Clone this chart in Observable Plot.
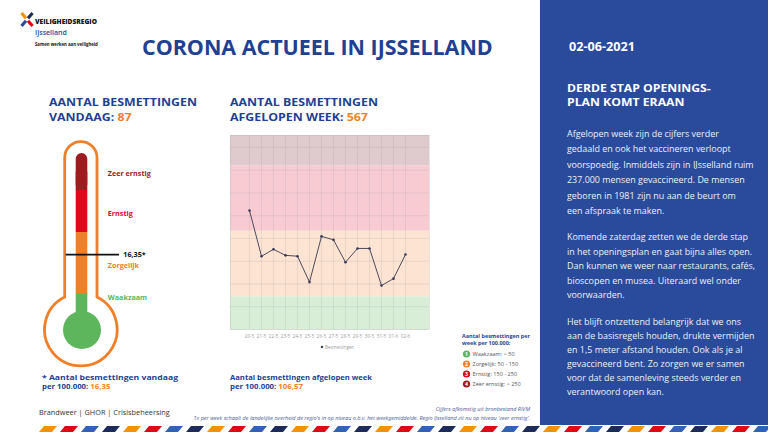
<!DOCTYPE html>
<html><head><meta charset="utf-8">
<script src="https://cdn.jsdelivr.net/npm/d3@7"></script>
<script src="https://cdn.jsdelivr.net/npm/@observablehq/plot@0.6"></script>
<style>
html,body{margin:0;padding:0;background:#fff;}
#root{position:relative;width:768px;height:432px;overflow:hidden;font-family:"Open Sans",sans-serif;background:#fff;}
#deco{position:absolute;left:0;top:0;}
#thermo{position:absolute;left:0;top:0;width:200px;height:400px;}
#chart{position:absolute;left:200px;top:125px;width:240px;height:230px;}
</style></head><body>
<div id="root">
<svg id="deco" width="768" height="432"></svg>
<div id="thermo"></div>
<div id="chart"></div>
</div>
<script>
// ---------- data ----------
const dates = ["20-5","21-5","22-5","23-5","24-5","25-5","26-5","27-5","28-5","29-5","30-5","31-5","01-6","02-6"];
const infections = [138,85,93,86,85,55,108,104,78,94,94,51,59,87];
const levelNames = ["Waakzaam","Zorgelijk","Ernstig","Zeer ernstig"];
const levelColors = ["#5db65c","#f07f29","#e2071b","#9e1b20"];
const chartBandColors = ["#d8eed7","#fde3d1","#f8cbd3","#dfcacd"];
const weeklyThresholds = [0, 50, 150, 250, 350];          // per 100.000 per week
const dailyRegionThresholds = [0, 38, 114, 190, 225];      // daily infections IJsselland
const gridValues = [0, 26.4, 52.8, 79.2, 105.6, 132, 158.4, 184.8, 211.2];
const legendRanges = ["< 50", "50 - 150", "150 - 250", "> 250"];
const todayCount = 87;
const weekCount = 567;
const todayPer100k = 16.35;
const weekPer100k = 106.57;
const dateLabel = "02-06-2021";
const para1 = ["Afgelopen week zijn de cijfers verder","gedaald en ook het vaccineren verloopt","voorspoedig. Inmiddels zijn in IJsselland ruim","237.000 mensen gevaccineerd. De mensen","geboren in 1981 zijn nu aan de beurt om","een afspraak te maken."];
const para2 = ["Komende zaterdag zetten we de derde stap","in het openingsplan en gaat bijna alles open.","Dan kunnen we weer naar restaurants, cafés,","bioscopen en musea. Uiteraard wel onder","voorwaarden."];
const para3 = ["Het blijft ontzettend belangrijk dat we ons","aan de basisregels houden, drukte vermijden","en 1,5 meter afstand houden. Ook als je al","gevaccineerd bent. Zo zorgen we er samen","voor dat de samenleving steeds verder en","verantwoord open kan."];

const nl = v => String(v).replace(".", ",");
const BLUE = "#213f93";
const ORANGE = "#f07f29";

// ---------- decoration / text ----------
const svg = d3.select("#deco");
function txt(x, y, s, o = {}) {
  const t = svg.append("text").attr("x", x).attr("y", y)
    .attr("font-family", o.family || "Open Sans")
    .attr("font-size", o.size || 9)
    .attr("font-weight", o.weight || 400)
    .attr("fill", o.fill || "#333");
  if (o.italic) t.attr("font-style", "italic");
  if (o.anchor) t.attr("text-anchor", o.anchor);
  if (o.len) t.attr("textLength", o.len).attr("lengthAdjust", "spacingAndGlyphs");
  if (Array.isArray(s)) s.forEach(([str, col]) => t.append("tspan").attr("fill", col).text(str));
  else t.text(s);
  return t;
}
function fit(t, target) {
  const w = t.node().getComputedTextLength();
  const f = +t.attr("font-size") * target / w;
  t.attr("font-size", f);
  return f;
}
// keep width, shrink line box a little (tightly stacked heading lines)
function squeeze(t, k) {
  const w = t.node().getComputedTextLength();
  t.attr("font-size", +t.attr("font-size") * k).attr("textLength", w).attr("lengthAdjust", "spacingAndGlyphs");
  return t;
}

// blue panel
svg.append("rect").attr("x", 540).attr("y", 0).attr("width", 228).attr("height", 425).attr("fill", "#2a4a9b");

// stripes
const stripeColors = ["#f39200","#e30613","#3063b8","#1d2b5a"];
for (let i = 0, x = 39; x < 780; i++, x += 21) {
  svg.append("polygon").attr("points", `${x},432 ${x+5},426 ${x+18},426 ${x+13},432`).attr("fill", stripeColors[i % 4]);
}

// logo icon
const icon = svg.append("g").attr("stroke-width", 3.2).attr("stroke-linecap", "butt");
icon.append("line").attr("x1", 21.5).attr("y1", 13).attr("x2", 26).attr("y2", 18.2).attr("stroke", "#f39200");
icon.append("line").attr("x1", 32.5).attr("y1", 13).attr("x2", 28).attr("y2", 18.2).attr("stroke", "#1d2b5a");
icon.append("line").attr("x1", 21.5).attr("y1", 26).attr("x2", 26).attr("y2", 20.8).attr("stroke", "#2a4a9b");
icon.append("line").attr("x1", 32.5).attr("y1", 26).attr("x2", 28).attr("y2", 20.8).attr("stroke", "#e30613");
fit(txt(35, 23.5, "VEILIGHEIDSREGIO", {size: 8, weight: 800, fill: "#111"}), 62);
fit(txt(35, 34.5, "IJsselland", {size: 8.5, weight: 600, fill: "#2a4a9b"}), 32);
fit(txt(35, 45.5, "Samen werken aan veiligheid", {size: 4, weight: 700, fill: "#111"}), 63);

// title
fit(txt(142, 54.5, "CORONA ACTUEEL IN IJSSELLAND", {size: 21, weight: 700, fill: BLUE}), 351);

// headings
const hf = fit(txt(49, 105.5, "AANTAL BESMETTINGEN", {size: 12.5, weight: 700, fill: BLUE}), 148);
const headings = [
  svg.select("text:last-of-type"),
  txt(49, 120.5, [["VANDAAG: ", BLUE], [String(todayCount), ORANGE]], {size: hf, weight: 700}),
  txt(230, 105.5, "AANTAL BESMETTINGEN", {size: hf, weight: 700, fill: BLUE}),
  txt(230, 120.5, [["AFGELOPEN WEEK: ", BLUE], [String(weekCount), ORANGE]], {size: hf, weight: 700})
];
headings.forEach(t => squeeze(t, 0.9));

// captions
txt(42, 380, "* Aantal besmettingen vandaag", {size: 7.8, weight: 700, fill: BLUE, len: 136});
txt(42, 389, [["per 100.000: ", BLUE], [nl(todayPer100k), ORANGE]], {size: 7.8, weight: 700});
txt(230, 380, "Aantal besmettingen afgelopen week", {size: 7.8, weight: 700, fill: BLUE, len: 142});
txt(230, 389, [["per 100.000: ", BLUE], [nl(weekPer100k), ORANGE]], {size: 7.8, weight: 700});

// level legend box
const lf = fit(txt(462, 338, "Aantal besmettingen per", {size: 6, weight: 700, fill: "#2b4290"}), 68);
txt(462, 345, "week per 100.000:", {size: lf, weight: 700, fill: "#2b4290"});
levelNames.forEach((n, i) => {
  const cy = 354 + i * 10;
  svg.append("circle").attr("cx", 466.5).attr("cy", cy).attr("r", 3.6).attr("fill", levelColors[i]);
  txt(466.5, cy + 1.9, String(i + 1), {size: 5.2, weight: 700, fill: "#fff", anchor: "middle"});
  txt(472.5, cy + 2.1, `${n}: ${legendRanges[i]}`, {size: lf * 1.02, fill: "#555"});
});

// chart legend
svg.append("circle").attr("cx", 322).attr("cy", 347).attr("r", 1.2).attr("fill", "#3a3a58");
txt(325, 348.7, "Besmettingen", {size: 4.5, fill: "#999"});

// footer
fit(txt(39, 414.5, "Brandweer | GHOR | Crisisbeheersing", {size: 9.5, fill: "#333"}), 131);
const ff = fit(txt(530, 420, "1x per week schaalt de landelijke overheid de regio's in op niveau o.b.v. het weekgemiddelde. Regio IJsselland zit nu op niveau 'zeer ernstig'.", {size: 5, italic: true, fill: "#4b5d96", anchor: "end"}), 337);
txt(530, 411, "Cijfers afkomstig uit bronbestand RIVM", {size: ff, italic: true, fill: "#4b5d96", anchor: "end"});

// right panel
fit(txt(569, 51, dateLabel, {size: 12.5, weight: 700, fill: "#fff"}), 66);
const d1 = txt(567, 92, "DERDE STAP OPENINGS-", {size: 12.5, weight: 700, fill: "#fff"});
const rf = fit(d1, 144);
const d2 = txt(567, 106, "PLAN KOMT ERAAN", {size: rf, weight: 700, fill: "#fff"});
squeeze(d1, 0.88); squeeze(d2, 0.88);
const probe = txt(567, -50, para1[2], {size: 9, fill: "#fff"});
const bf = fit(probe, 187); probe.remove();
para1.forEach((l, i) => txt(567, 137 + i * 15.4, l, {size: bf, fill: "#eef1f8"}));
para2.forEach((l, i) => txt(567, 240 + i * 14.6, l, {size: bf, fill: "#eef1f8"}));
para3.forEach((l, i) => txt(567, 325 + i * 14, l, {size: bf, fill: "#eef1f8"}));

// ---------- thermometer (Plot) ----------
// piecewise position of the thermometer levels (daily per 100.000)
const thermoY = d3.scaleLinear().domain(weeklyThresholds.map(v => v / 7)).range([329.5, 294, 232, 190, 153]);
const thermoLevels = levelNames.map((n, i) => ({name: n, lo: weeklyThresholds[i] / 7, hi: weeklyThresholds[i + 1] / 7, color: levelColors[i]}));
const outline = () => d3.create("svg:path")
    .attr("d", "M64.7,297.1 L64.7,157.7 A16.15,16.15 0 0 1 97,157.7 L97,297.1 A36.3,36.3 0 1 1 64.7,297.1 Z")
    .attr("fill", "#fff").attr("stroke", ORANGE).attr("stroke-width", 2.8).node();
const thermo = Plot.plot({
  width: 200, height: 400,
  marginLeft: 75.7, marginRight: 112.7, marginTop: 0, marginBottom: 0,
  style: {background: "transparent", overflow: "visible", fontFamily: "Open Sans"},
  color: {type: "identity"},
  y: {type: "identity", axis: null},
  marks: [
    outline,
    Plot.rect(thermoLevels.slice(0, 3), {y1: d => thermoY(d.lo), y2: d => thermoY(d.hi), fill: "color"}),
    Plot.rect(thermoLevels.slice(3), {y1: d => thermoY(d.lo), y2: d => thermoY(d.hi), fill: "color", rx: 5.8}),
    Plot.rect(thermoLevels.slice(3), {y1: d => thermoY(d.lo), y2: d => thermoY((d.lo + d.hi) / 2), fill: "color"}),
    Plot.dot([0], {y: d => thermoY(d), r: 19, fill: levelColors[0]}),
    Plot.ruleY([todayPer100k], {y: d => thermoY(d), stroke: "#111", strokeWidth: 1.7, insetLeft: -10, insetRight: -31.7}),
    Plot.text([todayPer100k], {y: d => thermoY(d), text: d => nl(d) + "*", frameAnchor: "right", textAnchor: "start", dx: 35.5, fontWeight: "bold", fontSize: 7.2, fill: "#111"}),
    Plot.text(thermoLevels.slice(1), {y: d => thermoY((d.lo + d.hi) / 2), text: "name", fill: "color", frameAnchor: "right", textAnchor: "start", dx: 20, dy: 2, fontWeight: "bold", fontSize: 7.2}),
    Plot.text(thermoLevels.slice(0, 1), {y: d => thermoY(d.hi), text: "name", fill: "color", frameAnchor: "right", textAnchor: "start", dx: 20, dy: 3.5, fontWeight: "bold", fontSize: 7.2})
  ]
});
document.getElementById("thermo").append(thermo);

// ---------- weekly chart (Plot) ----------
const chartData = dates.map((d, i) => ({date: d, value: infections[i]}));
const bands = levelNames.map((n, i) => ({name: n, lo: dailyRegionThresholds[i], hi: dailyRegionThresholds[i + 1], fill: chartBandColors[i]}));
const chart = Plot.plot({
  width: 240, height: 230,
  marginLeft: 30, marginRight: 11, marginTop: 10, marginBottom: 26,
  style: {background: "transparent", fontFamily: "Open Sans", fontSize: "4.6px", color: "#9a9a9a", overflow: "visible"},
  color: {type: "identity"},
  x: {type: "point", domain: dates, range: [37.7, 215.7], tickSize: 0, tickPadding: 5, label: null},
  y: {domain: [0, 225], axis: null},
  marks: [
    Plot.rect(bands, {y1: "lo", y2: "hi", fill: "fill"}),
    Plot.ruleY(gridValues, {stroke: "#9e9e9e", strokeOpacity: 0.3, strokeWidth: 0.7}),
    Plot.ruleX(dates, {stroke: "#9e9e9e", strokeOpacity: 0.3, strokeWidth: 0.7}),
    Plot.frame({stroke: "#b5b5b5", strokeOpacity: 0.5, strokeWidth: 0.7}),
    Plot.line(chartData, {x: "date", y: "value", stroke: "#4d4a5e", strokeWidth: 1}),
    Plot.dot(chartData, {x: "date", y: "value", r: 1.3, fill: "#3a3a58"})
  ]
});
document.getElementById("chart").append(chart);
</script>
</body></html>
